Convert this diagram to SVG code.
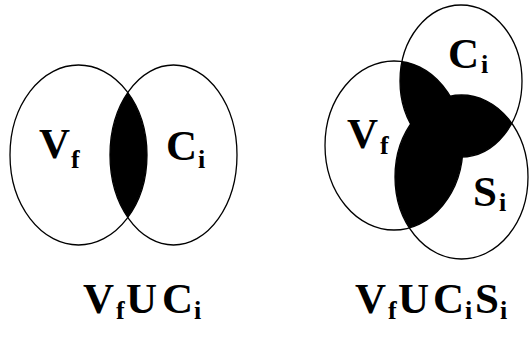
<svg xmlns="http://www.w3.org/2000/svg" width="529" height="342" viewBox="0 0 529 342">
<style>
.ring{fill:none;stroke:#000;stroke-width:1.3}
.fill{fill:#000;stroke:none}
text{font-family:'Liberation Serif','Times New Roman',serif;font-weight:bold;fill:#000}
.big{font-size:43px}
.sub{font-size:26px}
</style>
<defs>
<ellipse id="eL" cx="78.5" cy="155" rx="68.5" ry="90"/>
<ellipse id="eR" cx="173.5" cy="155" rx="63.5" ry="90"/>
<ellipse id="eV" cx="394" cy="145.5" rx="69" ry="84.5"/>
<ellipse id="eC" cx="461" cy="81" rx="61" ry="76"/>
<ellipse id="eS" cx="461.5" cy="177" rx="66.5" ry="82"/>
<clipPath id="clipL"><use href="#eL"/></clipPath>
<clipPath id="clipV"><use href="#eV"/></clipPath>
<clipPath id="clipC"><use href="#eC"/></clipPath>
</defs>
<rect width="529" height="342" fill="#fff"/>
<g id="diagram-left">
<g id="lens"><use href="#eR" class="fill" clip-path="url(#clipL)"/></g>
<g id="set-Vf-left"><use href="#eL" class="ring"/>
<text class="big" x="39" y="158">V</text><text class="sub" x="71" y="168">f</text></g>
<g id="set-Ci-left"><use href="#eR" class="ring"/>
<text class="big" x="166" y="160">C</text><text class="sub" x="198" y="168">i</text></g>
</g>
<g id="diagram-right">
<g id="overlap">
<use href="#eC" class="fill" clip-path="url(#clipV)"/>
<use href="#eS" class="fill" clip-path="url(#clipV)"/>
<use href="#eS" class="fill" clip-path="url(#clipC)"/>
</g>
<g id="set-Vf-right"><use href="#eV" class="ring"/>
<text class="big" x="347" y="148">V</text><text class="sub" x="380" y="154">f</text></g>
<g id="set-Ci-right"><use href="#eC" class="ring"/>
<text class="big" x="448" y="68">C</text><text class="sub" x="481" y="73">i</text></g>
<g id="set-Si-right"><use href="#eS" class="ring"/>
<text class="big" x="473" y="206">S</text><text class="sub" x="499" y="211">i</text></g>
</g>
<g id="captions">
<text class="big" y="313"><tspan x="83">V</tspan><tspan class="sub" x="116" dy="6">f</tspan><tspan x="126" dy="-6">U</tspan><tspan x="162">C</tspan><tspan class="sub" x="194" dy="6">i</tspan></text>
<text class="big" y="313"><tspan x="355">V</tspan><tspan class="sub" x="388" dy="6">f</tspan><tspan x="398" dy="-6">U</tspan><tspan x="433">C</tspan><tspan class="sub" x="465" dy="6">i</tspan><tspan x="475" dy="-6">S</tspan><tspan class="sub" x="500" dy="6">i</tspan></text>
</g>
</svg>
